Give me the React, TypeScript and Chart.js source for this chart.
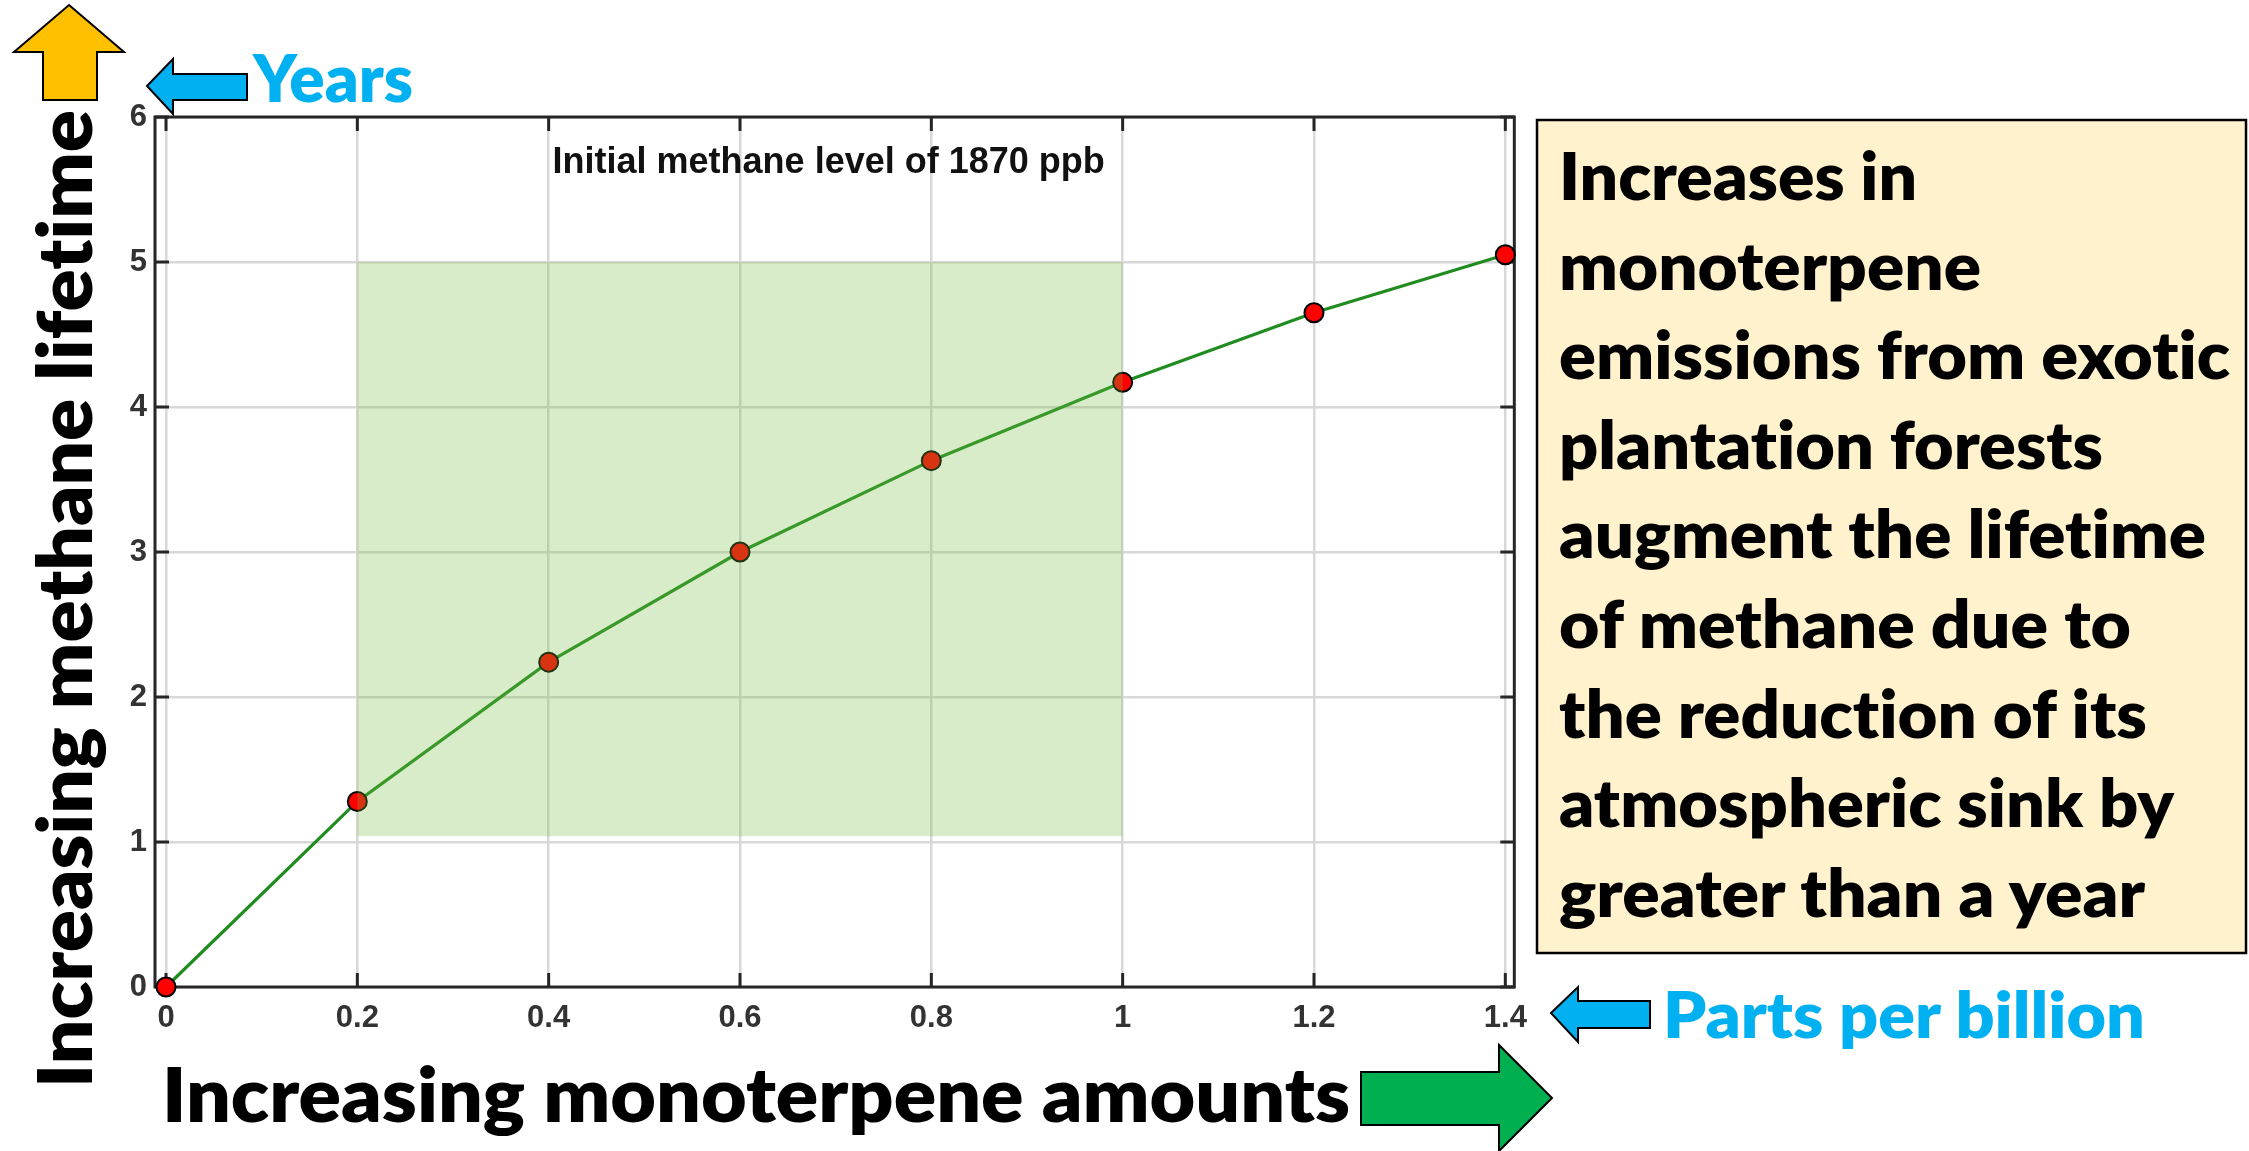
import React, { useEffect, useRef } from "react";
import { Chart, registerables } from "chart.js";

Chart.register(...registerables);

// ---- data ----
const monoterpenePpb = [0, 0.2, 0.4, 0.6, 0.8, 1.0, 1.2, 1.4];
const methaneLifetimeYears = [0, 1.28, 2.24, 3.0, 3.63, 4.17, 4.65, 5.05];
const xTickValues = [0, 0.2, 0.4, 0.6, 0.8, 1.0, 1.2, 1.4];
const xTickLabels = ["0", "0.2", "0.4", "0.6", "0.8", "1", "1.2", "1.4"];
const yTickValues = [0, 1, 2, 3, 4, 5, 6];
const yTickLabels = ["0", "1", "2", "3", "4", "5", "6"];
const shadedX = [0.2, 1.0];
const shadedY = [1.04, 5.0];
const chartTitle = "Initial methane level of 1870 ppb";
const yAxisTitle = "Increasing methane lifetime";
const xAxisTitle = "Increasing monoterpene amounts";
const yUnitLabel = "Years";
const xUnitLabel = "Parts per billion";
const noteLines = [
  "Increases in",
  "monoterpene",
  "emissions from exotic",
  "plantation forests",
  "augment the lifetime",
  "of methane due to",
  "the reduction of its",
  "atmospheric sink by",
  "greater than a year",
];
const noteLineWidths = [358, 422, 671, 544, 647, 572, 588, 615, 586];

const AXIS_COLOR = "#262626";
const FONT_TICK = '"Liberation Sans", Arial, Helvetica, sans-serif';
const FONT_ANN = 'Lato, "Open Sans", "Noto Sans", sans-serif';
const ANN_WEIGHT = 800;

const axesBoxPlugin = {
  id: "axesBox",
  beforeDatasetsDraw(chart: any) {
    const { ctx, chartArea: a, scales } = chart;
    ctx.save();
    ctx.strokeStyle = AXIS_COLOR;
    ctx.lineWidth = 3;
    ctx.strokeRect(a.left, a.top, a.right - a.left, a.bottom - a.top);
    const len = 14;
    ctx.beginPath();
    xTickValues.forEach((v) => {
      const px = scales.x.getPixelForValue(v);
      ctx.moveTo(px, a.bottom);
      ctx.lineTo(px, a.bottom - len);
      ctx.moveTo(px, a.top);
      ctx.lineTo(px, a.top + len);
    });
    yTickValues.forEach((v) => {
      const py = scales.y.getPixelForValue(v);
      ctx.moveTo(a.left, py);
      ctx.lineTo(a.left + len, py);
      ctx.moveTo(a.right, py);
      ctx.lineTo(a.right - len, py);
    });
    ctx.stroke();
    // in-plot title
    ctx.fillStyle = "#111111";
    ctx.font = `bold 36px ${FONT_TICK}`;
    ctx.textAlign = "center";
    ctx.textBaseline = "alphabetic";
    ctx.fillText(chartTitle, (a.left + a.right) / 2 - 6, a.top + 56);
    ctx.restore();
  },
  afterDatasetsDraw(chart: any) {
    const { ctx, scales } = chart;
    const x0 = scales.x.getPixelForValue(shadedX[0]);
    const x1 = scales.x.getPixelForValue(shadedX[1]);
    const y0 = scales.y.getPixelForValue(shadedY[1]);
    const y1 = scales.y.getPixelForValue(shadedY[0]);
    ctx.save();
    ctx.fillStyle = "rgba(120,185,60,0.28)";
    ctx.fillRect(x0, y0, x1 - x0, y1 - y0);
    ctx.restore();
  },
};

export default function App() {
  const canvasRef = useRef<HTMLCanvasElement | null>(null);

  useEffect(() => {
    if (!canvasRef.current) return;
    const chart = new Chart(canvasRef.current, {
      type: "line",
      data: {
        datasets: [
          {
            data: monoterpenePpb.map((x, i) => ({ x, y: methaneLifetimeYears[i] })),
            borderColor: "rgb(32,140,32)",
            borderWidth: 3.2,
            pointRadius: 9.5,
            pointBackgroundColor: "#ff0000",
            pointBorderColor: "#000000",
            pointBorderWidth: 2,
            tension: 0,
            clip: false as any,
          },
        ],
      },
      options: {
        animation: false,
        responsive: false,
        devicePixelRatio: 1,
        layout: { padding: { left: 95, top: 117, right: 20, bottom: 94 } },
        plugins: { legend: { display: false }, tooltip: { enabled: false }, title: { display: false } },
        scales: {
          x: {
            type: "linear",
            position: "bottom",
            min: -0.0115,
            max: 1.4094,
            afterBuildTicks: (s: any) => {
              s.ticks = xTickValues.map((v) => ({ value: v }));
            },
            afterFit: (s: any) => {
              s.height = 70;
            },
            ticks: {
              callback: (v: any) => xTickLabels[xTickValues.indexOf(Number(v))] ?? "",
              font: { size: 31, weight: "bold", family: FONT_TICK },
              color: "#333333",
              padding: 13,
              maxRotation: 0,
              autoSkip: false,
            },
            grid: { color: "#d8d8d8", lineWidth: 2.5, drawTicks: false },
            border: { display: false },
          },
          y: {
            type: "linear",
            min: 0,
            max: 6,
            afterBuildTicks: (s: any) => {
              s.ticks = yTickValues.map((v) => ({ value: v }));
            },
            afterFit: (s: any) => {
              s.width = 60;
            },
            ticks: {
              callback: (v: any) => yTickLabels[yTickValues.indexOf(Number(v))] ?? "",
              font: { size: 31, weight: "bold", family: FONT_TICK },
              color: "#333333",
              padding: 8,
              autoSkip: false,
            },
            grid: { color: "#d8d8d8", lineWidth: 2.5, drawTicks: false },
            border: { display: false },
          },
        },
      },
      plugins: [axesBoxPlugin],
    } as any);
    return () => chart.destroy();
  }, []);

  const annStyle: React.CSSProperties = { fontVariantLigatures: "none" };

  return (
    <div style={{ position: "fixed", left: 0, top: 0, width: 2249, height: 1151, background: "#ffffff", overflow: "hidden" }}>
      <canvas ref={canvasRef} width={1540} height={1151} style={{ position: "absolute", left: 0, top: 0 }} />
      <svg
        width={2249}
        height={1151}
        style={{ position: "absolute", left: 0, top: 0, pointerEvents: "none" }}
      >
        {/* orange up arrow */}
        <polygon points="69,5 124,52 97,52 97,100 43,100 43,52 14,52" fill="#FFC000" stroke="#000" strokeWidth={2} />
        {/* blue arrow to Years */}
        <polygon points="147,86 173,59 173,74 247,74 247,100 173,100 173,114" fill="#00B0F0" stroke="#000" strokeWidth={2} />
        <text x={253} y={102} style={annStyle} fontFamily={FONT_ANN} fontWeight={ANN_WEIGHT} fontSize={66} fill="#00B0F0" textLength={160} lengthAdjust="spacingAndGlyphs">
          {yUnitLabel}
        </text>
        {/* vertical axis title */}
        <text
          transform="translate(92,1088) rotate(-90)"
          x={0}
          y={0}
          style={annStyle}
          fontFamily={FONT_ANN}
          fontWeight={ANN_WEIGHT}
          fontSize={75}
          fill="#000"
          textLength={978}
          lengthAdjust="spacingAndGlyphs"
        >
          {yAxisTitle}
        </text>
        {/* horizontal axis title */}
        <text x={162} y={1122} style={annStyle} fontFamily={FONT_ANN} fontWeight={ANN_WEIGHT} fontSize={75} fill="#000" textLength={1188} lengthAdjust="spacingAndGlyphs">
          {xAxisTitle}
        </text>
        {/* green right arrow */}
        <polygon points="1361,1072 1499,1072 1499,1045 1552,1098 1499,1151 1499,1125 1361,1125" fill="#00B050" stroke="#000" strokeWidth={2} />
        {/* blue arrow to Parts per billion */}
        <polygon points="1551,1013 1578,987 1578,1001 1650,1001 1650,1028 1578,1028 1578,1042" fill="#00B0F0" stroke="#000" strokeWidth={2} />
        <text x={1663} y={1038} style={annStyle} fontFamily={FONT_ANN} fontWeight={ANN_WEIGHT} fontSize={64} fill="#00B0F0" textLength={482} lengthAdjust="spacingAndGlyphs">
          {xUnitLabel}
        </text>
        {/* note box */}
        <rect x={1537} y={120} width={709} height={833} fill="#FFF2CC" stroke="#000" strokeWidth={2.5} />
        {noteLines.map((line, i) => (
          <text
            key={i}
            x={1559}
            y={200 + 89.6 * i}
            style={annStyle}
            fontFamily={FONT_ANN}
            fontWeight={ANN_WEIGHT}
            fontSize={66}
            fill="#000"
            textLength={noteLineWidths[i]}
            lengthAdjust="spacingAndGlyphs"
          >
            {line}
          </text>
        ))}
      </svg>
    </div>
  );
}
